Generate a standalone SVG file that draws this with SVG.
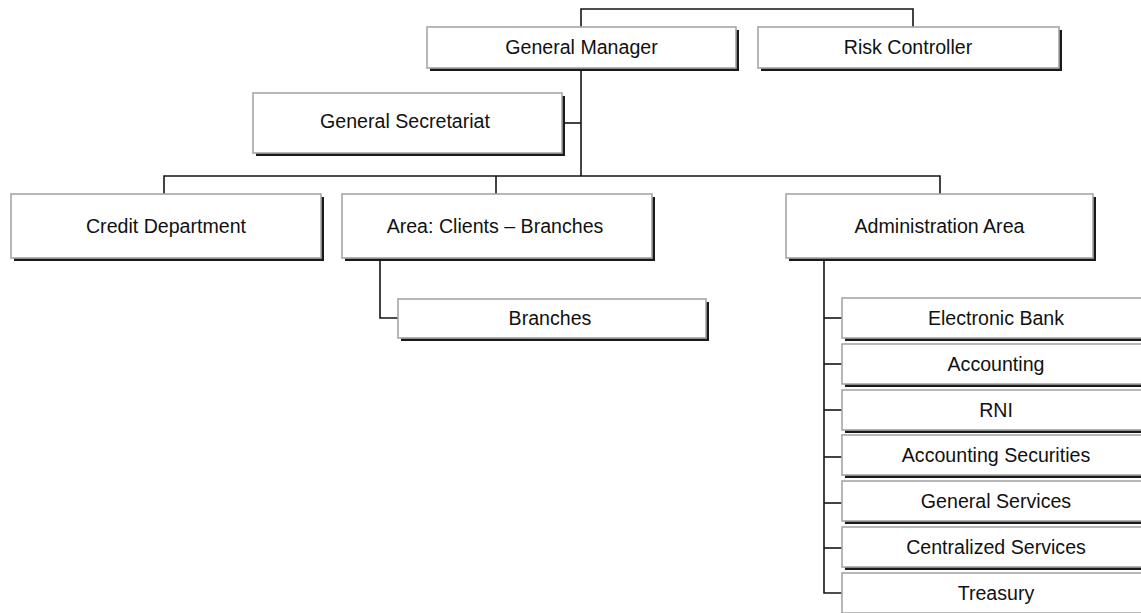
<svg xmlns="http://www.w3.org/2000/svg" width="1141" height="613" viewBox="0 0 1141 613">
  <style>
    .shadow { fill: #1a1a1a; }
    .box { fill: #ffffff; stroke: #a6a6a6; stroke-width: 1.6; }
    .label { font-family: "Liberation Sans", Arial, sans-serif; font-size: 19.6px; fill: #111111; text-anchor: middle; }
    .link { fill: none; stroke: #141414; stroke-width: 1.6; }
  </style>
  <rect width="1141" height="613" fill="#ffffff"/>

  <!-- connectors -->
  <g id="connectors">
    <polyline class="link" points="581,27 581,9 913,9 913,27"/>
    <line class="link" x1="581" y1="68" x2="581" y2="176"/>
    <line class="link" x1="565" y1="123" x2="581" y2="123"/>
    <polyline class="link" points="164,194 164,176 940,176 940,194"/>
    <line class="link" x1="496" y1="176" x2="496" y2="194"/>
    <polyline class="link" points="380,261 380,318 398,318"/>
    <polyline class="link" points="824,261 824,593 842,593"/>
    <line class="link" x1="824" y1="318" x2="842" y2="318"/>
    <line class="link" x1="824" y1="364" x2="842" y2="364"/>
    <line class="link" x1="824" y1="410" x2="842" y2="410"/>
    <line class="link" x1="824" y1="457" x2="842" y2="457"/>
    <line class="link" x1="824" y1="503" x2="842" y2="503"/>
    <line class="link" x1="824" y1="548" x2="842" y2="548"/>
  </g>

  <g id="general-manager">
    <rect class="shadow" x="430" y="30" width="309" height="41"/>
    <rect class="box" x="427" y="27" width="309" height="41"/>
    <text class="label" x="581.5" y="54">General Manager</text>
  </g>
  <g id="risk-controller">
    <rect class="shadow" x="761" y="30" width="301" height="41"/>
    <rect class="box" x="758" y="27" width="301" height="41"/>
    <text class="label" x="908" y="54">Risk Controller</text>
  </g>
  <g id="general-secretariat">
    <rect class="shadow" x="256" y="96" width="309" height="60"/>
    <rect class="box" x="253" y="93" width="309" height="60"/>
    <text class="label" x="405" y="128">General Secretariat</text>
  </g>
  <g id="credit-department">
    <rect class="shadow" x="14" y="197" width="310" height="64"/>
    <rect class="box" x="11" y="194" width="310" height="64"/>
    <text class="label" x="166" y="233">Credit Department</text>
  </g>
  <g id="area-clients-branches">
    <rect class="shadow" x="345" y="197" width="310" height="64"/>
    <rect class="box" x="342" y="194" width="310" height="64"/>
    <text class="label" x="495" y="233">Area: Clients – Branches</text>
  </g>
  <g id="administration-area">
    <rect class="shadow" x="789" y="197" width="307" height="64"/>
    <rect class="box" x="786" y="194" width="307" height="64"/>
    <text class="label" x="939.5" y="233">Administration Area</text>
  </g>
  <g id="branches">
    <rect class="shadow" x="401" y="302" width="308" height="39"/>
    <rect class="box" x="398" y="299" width="308" height="39"/>
    <text class="label" x="550" y="325">Branches</text>
  </g>

  <g id="electronic-bank">
    <rect class="shadow" x="845" y="301" width="308" height="40"/>
    <rect class="box" x="842" y="298" width="308" height="40"/>
    <text class="label" x="996" y="325">Electronic Bank</text>
  </g>
  <g id="accounting">
    <rect class="shadow" x="845" y="347" width="308" height="40"/>
    <rect class="box" x="842" y="344" width="308" height="40"/>
    <text class="label" x="996" y="371">Accounting</text>
  </g>
  <g id="rni">
    <rect class="shadow" x="845" y="393" width="308" height="40"/>
    <rect class="box" x="842" y="390" width="308" height="40"/>
    <text class="label" x="996" y="417">RNI</text>
  </g>
  <g id="accounting-securities">
    <rect class="shadow" x="845" y="438" width="308" height="40"/>
    <rect class="box" x="842" y="435" width="308" height="40"/>
    <text class="label" x="996" y="462">Accounting Securities</text>
  </g>
  <g id="general-services">
    <rect class="shadow" x="845" y="484" width="308" height="40"/>
    <rect class="box" x="842" y="481" width="308" height="40"/>
    <text class="label" x="996" y="508">General Services</text>
  </g>
  <g id="centralized-services">
    <rect class="shadow" x="845" y="530" width="308" height="40"/>
    <rect class="box" x="842" y="527" width="308" height="40"/>
    <text class="label" x="996" y="554">Centralized Services</text>
  </g>
  <g id="treasury">
    <rect class="shadow" x="845" y="576" width="308" height="40"/>
    <rect class="box" x="842" y="573" width="308" height="40"/>
    <text class="label" x="996" y="600">Treasury</text>
  </g>
</svg>
